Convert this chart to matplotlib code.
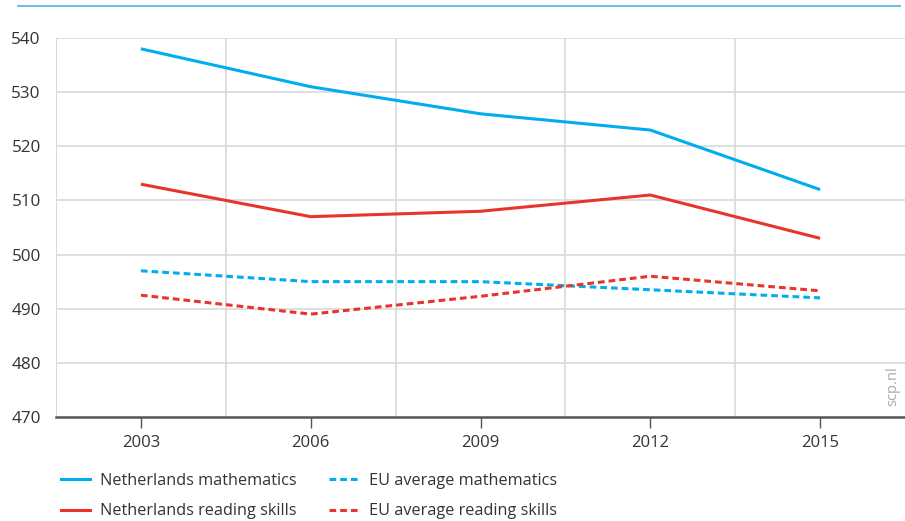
import matplotlib
matplotlib.use("Agg")
import matplotlib.pyplot as plt
from matplotlib.lines import Line2D

plt.rcParams['font.family'] = ['Open Sans', 'DejaVu Sans']

years = ["2003", "2006", "2009", "2012", "2015"]
nl_math = [538, 531, 526, 523, 512]
nl_read = [513, 507, 508, 511, 503]
eu_math = [497, 495, 495, 493.5, 492]
eu_read = [492.5, 489, 492.3, 496, 493.3]
y_ticks = [470, 480, 490, 500, 510, 520, 530, 540]

BLUE = "#00aeef"
RED = "#e8342b"
GRID = "#d9d9d9"
TEXT = "#333333"
DASH = (0, (2.2, 1.3))

fig = plt.figure(figsize=(9.05, 5.21), dpi=100)
ax = fig.add_axes([56 / 905, 1 - 417 / 521, (905 - 56) / 905, (417 - 38) / 521])

x = list(range(len(years)))
ax.plot(x, nl_math, color=BLUE, lw=2.2, solid_capstyle="butt", zorder=3)
ax.plot(x, nl_read, color=RED, lw=2.2, solid_capstyle="butt", zorder=3)
ax.plot(x, eu_math, color=BLUE, lw=2.2, ls=DASH, zorder=3)
ax.plot(x, eu_read, color=RED, lw=2.2, ls=DASH, zorder=3)

ax.set_xlim(-0.5, len(years) - 0.5)
ax.set_ylim(470, 540)
ax.set_yticks(y_ticks)
ax.set_yticklabels([str(v) for v in y_ticks], fontsize=12.3, color=TEXT)
ax.set_xticks(x)
ax.set_xticklabels(years, fontsize=12, color=TEXT)

# vertical grid between the survey years
for xm in [v + 0.5 for v in x[:-1]]:
    ax.axvline(xm, color=GRID, lw=1.2, zorder=1)
ax.axvline(-0.5, color=GRID, lw=1.5, zorder=1)
for yv in y_ticks[1:]:
    ax.axhline(yv, color=GRID, lw=1.2, zorder=1)

for s in ["top", "right", "left"]:
    ax.spines[s].set_visible(False)
ax.spines["bottom"].set_color("#555555")
ax.spines["bottom"].set_linewidth(1.8)
ax.tick_params(axis="y", length=0, pad=11)
ax.tick_params(axis="x", length=8, width=1, color="#555555", direction="out", pad=5)

ax.text(0.985, 0.03, "scp.nl", rotation=90, transform=ax.transAxes,
        ha="center", va="bottom", fontsize=10.5, color="#aaaaaa")

# rule across the top
fig.add_artist(Line2D([18 / 905, 900 / 905], [1 - 6 / 521] * 2, color="#5bb8e6", lw=1.3))

handles = [
    Line2D([], [], color=BLUE, lw=2.2),
    Line2D([], [], color=RED, lw=2.2),
    Line2D([], [], color=BLUE, lw=2.2, ls=DASH),
    Line2D([], [], color=RED, lw=2.2, ls=DASH),
]
labels = ["Netherlands mathematics", "Netherlands reading skills",
          "EU average mathematics", "EU average reading skills"]
leg = fig.legend(handles, labels, ncol=2, loc="upper left",
                 bbox_to_anchor=(46 / 905, 1 - 458 / 521), frameon=False,
                 fontsize=11.7, handlelength=1.8, handletextpad=0.65,
                 columnspacing=1.95, labelspacing=0.9)
for t in leg.get_texts():
    t.set_color(TEXT)

fig.savefig("out.png", dpi=100)
